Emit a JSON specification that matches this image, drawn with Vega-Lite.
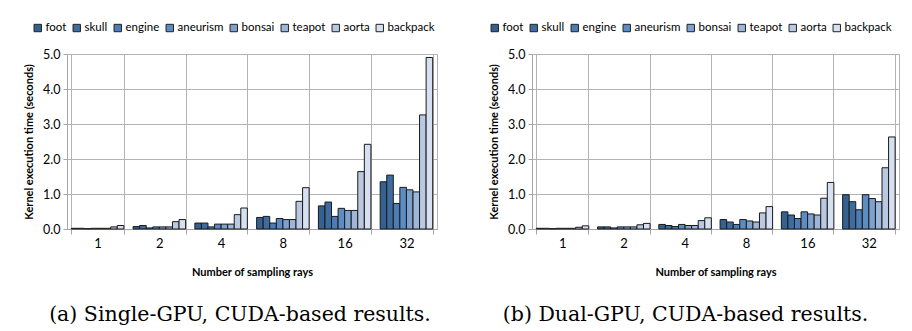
{
  "$schema": "https://vega.github.io/schema/vega-lite/v6.json",
  "background": "white",
  "padding": {"left": 23, "top": 21, "right": 10, "bottom": 4},
  "bounds": "flush",
  "config": {
    "font": "Lato",
    "view": {"stroke": "#b3b3b3", "strokeWidth": 1},
    "concat": {"spacing": 95},
    "axis": {
      "labelFont": "Lato", "labelColor": "#000", "titleFont": "Lato", "titleColor": "#000",
      "titleFontWeight": "bold", "titleFontSize": 11, "gridColor": "#b3b3b3", "gridOpacity": 1,
      "domainColor": "#a6a6a6", "tickColor": "#a6a6a6"
    },
    "legend": {
      "labelFont": "Lato", "labelFontSize": 11.5, "labelColor": "#000", "symbolType": "square",
      "symbolSize": 55, "symbolStrokeColor": "#222", "symbolStrokeWidth": 1, "columnPadding": 4,
      "symbolOffset": 0, "labelOffset": 2
    },
    "title": {"font": "DejaVu Serif", "fontSize": 20.5, "fontWeight": "normal", "color": "#000"}
  },
  "data": {
    "values": [
      {"panel": "a", "rays": "1", "dataset": "foot", "time": 0.02},
      {"panel": "a", "rays": "1", "dataset": "skull", "time": 0.02},
      {"panel": "a", "rays": "1", "dataset": "engine", "time": 0.01},
      {"panel": "a", "rays": "1", "dataset": "aneurism", "time": 0.02},
      {"panel": "a", "rays": "1", "dataset": "bonsai", "time": 0.02},
      {"panel": "a", "rays": "1", "dataset": "teapot", "time": 0.02},
      {"panel": "a", "rays": "1", "dataset": "aorta", "time": 0.06},
      {"panel": "a", "rays": "1", "dataset": "backpack", "time": 0.1},
      {"panel": "a", "rays": "2", "dataset": "foot", "time": 0.07},
      {"panel": "a", "rays": "2", "dataset": "skull", "time": 0.1},
      {"panel": "a", "rays": "2", "dataset": "engine", "time": 0.03},
      {"panel": "a", "rays": "2", "dataset": "aneurism", "time": 0.06},
      {"panel": "a", "rays": "2", "dataset": "bonsai", "time": 0.06},
      {"panel": "a", "rays": "2", "dataset": "teapot", "time": 0.06},
      {"panel": "a", "rays": "2", "dataset": "aorta", "time": 0.21},
      {"panel": "a", "rays": "2", "dataset": "backpack", "time": 0.27},
      {"panel": "a", "rays": "4", "dataset": "foot", "time": 0.17},
      {"panel": "a", "rays": "4", "dataset": "skull", "time": 0.17},
      {"panel": "a", "rays": "4", "dataset": "engine", "time": 0.06},
      {"panel": "a", "rays": "4", "dataset": "aneurism", "time": 0.14},
      {"panel": "a", "rays": "4", "dataset": "bonsai", "time": 0.14},
      {"panel": "a", "rays": "4", "dataset": "teapot", "time": 0.14},
      {"panel": "a", "rays": "4", "dataset": "aorta", "time": 0.41},
      {"panel": "a", "rays": "4", "dataset": "backpack", "time": 0.6},
      {"panel": "a", "rays": "8", "dataset": "foot", "time": 0.33},
      {"panel": "a", "rays": "8", "dataset": "skull", "time": 0.36},
      {"panel": "a", "rays": "8", "dataset": "engine", "time": 0.17},
      {"panel": "a", "rays": "8", "dataset": "aneurism", "time": 0.3},
      {"panel": "a", "rays": "8", "dataset": "bonsai", "time": 0.27},
      {"panel": "a", "rays": "8", "dataset": "teapot", "time": 0.27},
      {"panel": "a", "rays": "8", "dataset": "aorta", "time": 0.79},
      {"panel": "a", "rays": "8", "dataset": "backpack", "time": 1.18},
      {"panel": "a", "rays": "16", "dataset": "foot", "time": 0.66},
      {"panel": "a", "rays": "16", "dataset": "skull", "time": 0.77},
      {"panel": "a", "rays": "16", "dataset": "engine", "time": 0.36},
      {"panel": "a", "rays": "16", "dataset": "aneurism", "time": 0.59},
      {"panel": "a", "rays": "16", "dataset": "bonsai", "time": 0.53},
      {"panel": "a", "rays": "16", "dataset": "teapot", "time": 0.53},
      {"panel": "a", "rays": "16", "dataset": "aorta", "time": 1.64},
      {"panel": "a", "rays": "16", "dataset": "backpack", "time": 2.42},
      {"panel": "a", "rays": "32", "dataset": "foot", "time": 1.35},
      {"panel": "a", "rays": "32", "dataset": "skull", "time": 1.54},
      {"panel": "a", "rays": "32", "dataset": "engine", "time": 0.73},
      {"panel": "a", "rays": "32", "dataset": "aneurism", "time": 1.19},
      {"panel": "a", "rays": "32", "dataset": "bonsai", "time": 1.12},
      {"panel": "a", "rays": "32", "dataset": "teapot", "time": 1.06},
      {"panel": "a", "rays": "32", "dataset": "aorta", "time": 3.26},
      {"panel": "a", "rays": "32", "dataset": "backpack", "time": 4.9},
      {"panel": "b", "rays": "1", "dataset": "foot", "time": 0.02},
      {"panel": "b", "rays": "1", "dataset": "skull", "time": 0.02},
      {"panel": "b", "rays": "1", "dataset": "engine", "time": 0.01},
      {"panel": "b", "rays": "1", "dataset": "aneurism", "time": 0.02},
      {"panel": "b", "rays": "1", "dataset": "bonsai", "time": 0.02},
      {"panel": "b", "rays": "1", "dataset": "teapot", "time": 0.02},
      {"panel": "b", "rays": "1", "dataset": "aorta", "time": 0.05},
      {"panel": "b", "rays": "1", "dataset": "backpack", "time": 0.09},
      {"panel": "b", "rays": "2", "dataset": "foot", "time": 0.06},
      {"panel": "b", "rays": "2", "dataset": "skull", "time": 0.06},
      {"panel": "b", "rays": "2", "dataset": "engine", "time": 0.03},
      {"panel": "b", "rays": "2", "dataset": "aneurism", "time": 0.06},
      {"panel": "b", "rays": "2", "dataset": "bonsai", "time": 0.06},
      {"panel": "b", "rays": "2", "dataset": "teapot", "time": 0.06},
      {"panel": "b", "rays": "2", "dataset": "aorta", "time": 0.12},
      {"panel": "b", "rays": "2", "dataset": "backpack", "time": 0.16},
      {"panel": "b", "rays": "4", "dataset": "foot", "time": 0.13},
      {"panel": "b", "rays": "4", "dataset": "skull", "time": 0.1},
      {"panel": "b", "rays": "4", "dataset": "engine", "time": 0.07},
      {"panel": "b", "rays": "4", "dataset": "aneurism", "time": 0.13},
      {"panel": "b", "rays": "4", "dataset": "bonsai", "time": 0.1},
      {"panel": "b", "rays": "4", "dataset": "teapot", "time": 0.1},
      {"panel": "b", "rays": "4", "dataset": "aorta", "time": 0.24},
      {"panel": "b", "rays": "4", "dataset": "backpack", "time": 0.32},
      {"panel": "b", "rays": "8", "dataset": "foot", "time": 0.27},
      {"panel": "b", "rays": "8", "dataset": "skull", "time": 0.2},
      {"panel": "b", "rays": "8", "dataset": "engine", "time": 0.13},
      {"panel": "b", "rays": "8", "dataset": "aneurism", "time": 0.27},
      {"panel": "b", "rays": "8", "dataset": "bonsai", "time": 0.23},
      {"panel": "b", "rays": "8", "dataset": "teapot", "time": 0.2},
      {"panel": "b", "rays": "8", "dataset": "aorta", "time": 0.46},
      {"panel": "b", "rays": "8", "dataset": "backpack", "time": 0.64},
      {"panel": "b", "rays": "16", "dataset": "foot", "time": 0.49},
      {"panel": "b", "rays": "16", "dataset": "skull", "time": 0.4},
      {"panel": "b", "rays": "16", "dataset": "engine", "time": 0.3},
      {"panel": "b", "rays": "16", "dataset": "aneurism", "time": 0.49},
      {"panel": "b", "rays": "16", "dataset": "bonsai", "time": 0.43},
      {"panel": "b", "rays": "16", "dataset": "teapot", "time": 0.4},
      {"panel": "b", "rays": "16", "dataset": "aorta", "time": 0.88},
      {"panel": "b", "rays": "16", "dataset": "backpack", "time": 1.33},
      {"panel": "b", "rays": "32", "dataset": "foot", "time": 0.98},
      {"panel": "b", "rays": "32", "dataset": "skull", "time": 0.78},
      {"panel": "b", "rays": "32", "dataset": "engine", "time": 0.55},
      {"panel": "b", "rays": "32", "dataset": "aneurism", "time": 0.98},
      {"panel": "b", "rays": "32", "dataset": "bonsai", "time": 0.87},
      {"panel": "b", "rays": "32", "dataset": "teapot", "time": 0.78},
      {"panel": "b", "rays": "32", "dataset": "aorta", "time": 1.75},
      {"panel": "b", "rays": "32", "dataset": "backpack", "time": 2.63}
    ]
  },
  "hconcat": [
    {
      "width": 370, "height": 175,
      "title": {"text": "(a) Single-GPU, CUDA-based results.", "orient": "bottom", "anchor": "middle", "offset": 28, "dx": -12},
      "transform": [{"filter": "datum.panel === 'a'"}],
      "mark": {"type": "bar", "stroke": "#1a1a1a", "strokeWidth": 1},
      "encoding": {
        "x": {"field": "rays", "type": "ordinal", "sort": ["1", "2", "4", "8", "16", "32"],
              "scale": {"paddingInner": 0.15, "paddingOuter": 0.07},
              "axis": {"title": "Number of sampling rays", "labelAngle": 0, "labelFontSize": 13, "labelPadding": 3,
                       "tickBand": "extent", "tickSize": 5, "grid": true, "titlePadding": 16}},
        "xOffset": {"field": "dataset", "type": "nominal",
                    "sort": ["foot", "skull", "engine", "aneurism", "bonsai", "teapot", "aorta", "backpack"],
                    "scale": {"paddingInner": 0, "paddingOuter": 0}},
        "y": {"field": "time", "type": "quantitative", "scale": {"domain": [0, 5], "nice": false},
              "axis": {"title": "Kernel execution time (seconds)", "values": [0, 1, 2, 3, 4, 5], "format": ".1f",
                       "labelFontSize": 12.5, "tickSize": 4, "labelPadding": 3, "titlePadding": 8}},
        "color": {"field": "dataset", "type": "nominal",
                  "sort": ["foot", "skull", "engine", "aneurism", "bonsai", "teapot", "aorta", "backpack"],
                  "scale": {"domain": ["foot", "skull", "engine", "aneurism", "bonsai", "teapot", "aorta", "backpack"],
                            "range": ["#34618f", "#3e6c9f", "#4c7db4", "#5b8cc4", "#7ea1cf", "#9db6da", "#bac9e2", "#d7e0f0"]},
                  "legend": {"title": null, "orient": "none", "direction": "horizontal", "legendX": -35, "legendY": -32}}
      }
    },
    {
      "width": 367, "height": 175,
      "title": {"text": "(b) Dual-GPU, CUDA-based results.", "orient": "bottom", "anchor": "middle", "offset": 28, "dx": -30},
      "transform": [{"filter": "datum.panel === 'b'"}],
      "mark": {"type": "bar", "stroke": "#1a1a1a", "strokeWidth": 1},
      "encoding": {
        "x": {"field": "rays", "type": "ordinal", "sort": ["1", "2", "4", "8", "16", "32"],
              "scale": {"paddingInner": 0.15, "paddingOuter": 0.07},
              "axis": {"title": "Number of sampling rays", "labelAngle": 0, "labelFontSize": 13, "labelPadding": 3,
                       "tickBand": "extent", "tickSize": 5, "grid": true, "titlePadding": 16}},
        "xOffset": {"field": "dataset", "type": "nominal",
                    "sort": ["foot", "skull", "engine", "aneurism", "bonsai", "teapot", "aorta", "backpack"],
                    "scale": {"paddingInner": 0, "paddingOuter": 0}},
        "y": {"field": "time", "type": "quantitative", "scale": {"domain": [0, 5], "nice": false},
              "axis": {"title": "Kernel execution time (seconds)", "values": [0, 1, 2, 3, 4, 5], "format": ".1f",
                       "labelFontSize": 12.5, "tickSize": 4, "labelPadding": 3, "titlePadding": 8}},
        "color": {"field": "dataset", "type": "nominal",
                  "sort": ["foot", "skull", "engine", "aneurism", "bonsai", "teapot", "aorta", "backpack"],
                  "scale": {"domain": ["foot", "skull", "engine", "aneurism", "bonsai", "teapot", "aorta", "backpack"],
                            "range": ["#34618f", "#3e6c9f", "#4c7db4", "#5b8cc4", "#7ea1cf", "#9db6da", "#bac9e2", "#d7e0f0"]},
                  "legend": {"title": null, "orient": "none", "direction": "horizontal", "legendX": -43, "legendY": -32}}
      }
    }
  ],
  "resolve": {"scale": {"color": "shared"}, "legend": {"color": "independent"}}
}
